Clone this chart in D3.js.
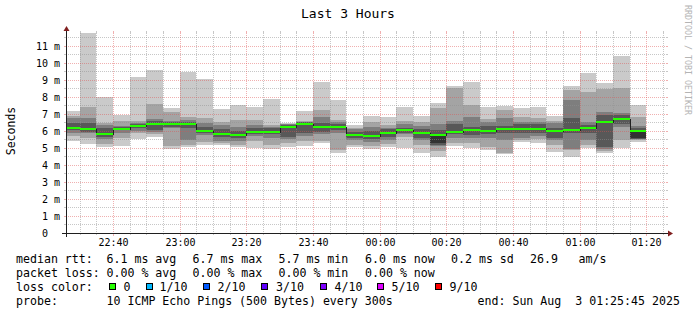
<!DOCTYPE html>
<html>
<head>
<meta charset="utf-8">
<script src="https://cdn.jsdelivr.net/npm/d3@7"></script>
<style>
body{margin:0;background:#fff}
svg{display:block;font-family:"DejaVu Sans Mono",monospace}
svg text{white-space:pre}
</style>
</head>
<body>
<div id="chart"></div>
<script>
// data - one entry per 300s step, label = step end time
const binEnd = ["22:30","22:35","22:40","22:45","22:50","22:55","23:00","23:05","23:10","23:15",
  "23:20","23:25","23:30","23:35","23:40","23:45","23:50","23:55","00:00","00:05",
  "00:10","00:15","00:20","00:25","00:30","00:35","00:40","00:45","00:50","00:55",
  "01:00","01:05","01:10","01:15","01:20"];

// median rtt (ms)
const median = [6.2,6.12,5.82,6.12,6.31,6.41,6.39,6.41,6.0,5.8,
  5.74,5.96,5.94,6.25,6.41,6.22,6.22,5.76,5.72,5.9,
  6.04,5.9,5.76,5.96,6.08,6.02,6.12,6.12,6.14,6.0,
  6.08,6.16,6.51,6.69,6.0];

// the 10 pings of each step, sorted (ms)
const pings = [
  [5.43,5.72,5.9,6.06,6.15,6.25,6.45,6.75,6.88,7.19],
  [5.24,5.57,5.86,5.96,6.07,6.17,6.45,6.78,7.43,11.78],
  [5.08,5.24,5.53,5.67,5.78,5.88,6.15,6.35,6.45,8.02],
  [5.12,5.57,5.86,6.03,6.08,6.16,6.22,6.29,6.6,6.94],
  [5.5,5.9,6.02,6.16,6.27,6.35,6.42,6.47,6.59,9.18],
  [5.63,5.8,5.95,6.06,6.35,6.47,6.6,6.71,7.59,9.59],
  [4.92,5.14,6.18,6.26,6.33,6.45,6.52,6.6,7.14,7.37],
  [5.08,5.18,5.47,6.2,6.36,6.46,6.55,6.65,6.84,9.49],
  [5.18,5.37,5.75,5.86,5.95,6.05,6.25,6.45,6.75,9.06],
  [5.18,5.3,5.43,5.63,5.75,5.85,6.1,6.35,6.55,7.29],
  [5.04,5.18,5.43,5.6,5.7,5.8,6.0,6.22,6.65,7.53],
  [4.98,5.43,5.7,5.85,5.92,6.0,6.16,6.35,6.65,7.43],
  [4.92,5.18,5.57,5.8,5.9,6.0,6.15,6.25,6.35,7.88],
  [5.08,5.31,5.55,5.67,6.2,6.3,6.35,6.38,6.41,6.49],
  [5.12,5.4,5.7,5.86,6.35,6.46,6.5,6.55,6.6,7.19],
  [5.27,5.4,5.8,5.96,6.15,6.28,6.45,6.84,7.24,8.9],
  [4.68,4.88,5.9,6.05,6.15,6.28,6.4,6.5,6.65,7.82],
  [5.08,5.18,5.47,5.6,5.7,5.8,5.95,6.1,6.2,6.35],
  [4.92,5.1,5.37,5.55,5.68,5.78,6.0,6.25,6.51,6.88],
  [5.08,5.24,5.45,5.65,5.85,5.95,6.1,6.2,6.35,6.84],
  [4.98,5.66,5.8,5.9,5.98,6.06,6.2,6.4,6.61,7.43],
  [4.73,5.2,5.45,5.57,5.85,5.95,6.1,6.29,6.5,6.88],
  [4.45,4.8,5.1,5.2,5.27,5.85,6.06,6.4,7.37,7.63],
  [5.12,5.3,5.6,5.8,5.9,6.02,6.39,6.59,8.55,8.65],
  [4.98,5.3,5.57,5.76,6.02,6.12,6.25,6.84,7.53,8.9],
  [4.88,5.08,5.6,5.85,5.98,6.06,6.3,6.5,6.68,7.43],
  [4.63,4.69,5.47,5.9,6.08,6.16,6.3,6.76,7.24,7.49],
  [5.37,5.47,5.57,5.86,6.06,6.16,6.4,6.55,6.84,7.37],
  [5.31,5.5,5.7,5.86,6.08,6.18,6.4,6.55,6.75,7.43],
  [4.78,5.18,5.45,5.57,5.95,6.05,6.2,6.45,6.6,6.88],
  [4.45,4.88,4.95,5.86,6.02,6.12,6.78,7.82,8.41,8.65],
  [4.98,5.18,5.47,5.86,6.1,6.2,6.35,6.55,8.29,9.43],
  [4.69,4.8,4.92,5.05,6.45,6.56,6.96,7.14,8.47,8.84],
  [4.98,5.47,6.25,6.4,6.62,6.75,6.95,7.04,8.55,10.43],
  [5.37,5.47,5.52,5.55,5.6,6.02,6.2,6.3,6.84,7.53]
];

const lossLabels = ["0","1/10","2/10","3/10","4/10","5/10","9/10"];
const lossColors = ["#26ff00","#00b8ff","#0059ff","#5e00ff","#7e00ff","#dd00ff","#ff0000"];

const rttStats = ["6.1 ms avg","6.7 ms max","5.7 ms min","6.0 ms now","0.2 ms sd","26.9","am/s"];
const lossStats = ["0.00 % avg","0.00 % max","0.00 % min","0.00 % now"];
const probeText = "10 ICMP Echo Pings (500 Bytes) every 300s";
const endText = "end: Sun Aug  3 01:25:45 2025";
const startTime = "2025-08-02 22:25:45";
const endTime = "2025-08-03 01:25:45";

// config
const width = 697, height = 315;
const X0 = 66, X1 = 666, Y0 = 233, Y1 = 33;
const yMax = 11.76;
const smokeColors = ["#cacaca","#a4a4a4","#7e7e7e","#585858","#323232"];
const gridColor = "rgba(143,143,143,0.5)";
const mgridColor = "rgba(222,80,80,0.45)";
const nb = s => s.replace(/ /g, "\u00a0");

const parse = d3.utcParse("%Y-%m-%d %H:%M:%S");
const t0 = parse(startTime), t1 = parse(endTime);
const toDate = s => parse((s < "12" ? "2025-08-03 " : "2025-08-02 ") + s + ":00");

const x = d3.scaleUtc().domain([t0, t1]).range([X0, X1]);
const y = d3.scaleLinear().domain([0, yMax]).range([Y0, Y1]);
const px = v => Math.max(X0, Math.floor(x(v)));
const py = v => Math.round(y(v));

const bins = binEnd.map((s, i) => {
  const end = toDate(s);
  return {start: d3.utcMinute.offset(end, -5), end: end, pings: pings[i], median: median[i]};
});

const svg = d3.select("#chart").append("svg")
  .attr("width", width).attr("height", height)
  .style("background", "#fff");

// smoke
const smoke = svg.append("g").attr("shape-rendering", "crispEdges");
smokeColors.forEach((c, k) => {
  smoke.append("g").selectAll("rect")
    .data(bins)
    .enter().append("rect")
    .attr("x", d => px(d.start))
    .attr("width", d => px(d.end) - px(d.start))
    .attr("y", d => py(d.pings[9 - k]))
    .attr("height", d => py(d.pings[k]) - py(d.pings[9 - k]))
    .attr("fill", c);
});

// grid on top
const grid = svg.append("g").attr("shape-rendering", "crispEdges").attr("stroke-dasharray", "1,1");
const yMinor = d3.range(0.5, yMax, 0.5).filter(v => v % 1 !== 0);
const yMajor = d3.range(1, 12);
const xMajor = d3.utcMinute.every(20).range(t0, t1);
const xMinor = d3.utcMinute.every(5).range(t0, t1).filter(d => d.getUTCMinutes() % 20 !== 0);

grid.selectAll(".hmin").data(yMinor).enter().append("line")
  .attr("x1", X0).attr("x2", X1)
  .attr("y1", d => py(d) + 0.5).attr("y2", d => py(d) + 0.5)
  .attr("stroke", gridColor);
grid.selectAll(".vmin").data(xMinor).enter().append("line")
  .attr("x1", d => px(d) + 0.5).attr("x2", d => px(d) + 0.5)
  .attr("y1", Y1).attr("y2", Y0)
  .attr("stroke", gridColor);
grid.selectAll(".hmaj").data(yMajor).enter().append("line")
  .attr("x1", X0).attr("x2", X1)
  .attr("y1", d => py(d) + 0.5).attr("y2", d => py(d) + 0.5)
  .attr("stroke", mgridColor);
grid.selectAll(".vmaj").data(xMajor).enter().append("line")
  .attr("x1", d => px(d) + 0.5).attr("x2", d => px(d) + 0.5)
  .attr("y1", Y1).attr("y2", Y0)
  .attr("stroke", mgridColor);

// outside ticks on right/top
const ticks = svg.append("g").attr("shape-rendering", "crispEdges");
ticks.selectAll(".rt").data(yMinor.concat(yMajor)).enter().append("line")
  .attr("x1", X1).attr("x2", X1 + 2)
  .attr("y1", d => py(d) + 0.5).attr("y2", d => py(d) + 0.5)
  .attr("stroke", d => d % 1 ? gridColor : mgridColor);
ticks.selectAll(".lt").data(yMinor).enter().append("line")
  .attr("x1", X0 - 2).attr("x2", X0)
  .attr("y1", d => py(d) + 0.5).attr("y2", d => py(d) + 0.5)
  .attr("stroke", gridColor);
ticks.selectAll(".tt").data(xMinor.concat(xMajor)).enter().append("line")
  .attr("x1", d => px(d) + 0.5).attr("x2", d => px(d) + 0.5)
  .attr("y1", Y1 - 2).attr("y2", Y1)
  .attr("stroke", d => d.getUTCMinutes() % 20 ? gridColor : mgridColor);
ticks.selectAll(".bt").data(xMinor).enter().append("line")
  .attr("x1", d => px(d) + 0.5).attr("x2", d => px(d) + 0.5)
  .attr("y1", Y0).attr("y2", Y0 + 2)
  .attr("stroke", gridColor);

// median: dark step line then loss coloured band
const medPts = [];
bins.forEach(d => {
  medPts.push([px(d.start), py(d.median) + 0.5]);
  medPts.push([px(d.end), py(d.median) + 0.5]);
});
svg.append("path")
  .attr("d", d3.line()(medPts))
  .attr("fill", "none")
  .attr("stroke", "#202020")
  .attr("shape-rendering", "crispEdges");
svg.append("g").attr("shape-rendering", "crispEdges")
  .selectAll("rect").data(bins).enter().append("rect")
  .attr("x", d => px(d.start))
  .attr("width", d => px(d.end) - px(d.start))
  .attr("y", d => py(d.median) - 1)
  .attr("height", 2)
  .attr("fill", lossColors[0]);

// axes
const yAxis = svg.append("g")
  .attr("transform", `translate(${X0},0.5)`)
  .call(d3.axisLeft(y).tickValues(d3.range(0, 12)).tickSize(2).tickPadding(4)
    .tickFormat(d => d === 0 ? "0\u00a0\u00a0" : nb(d + " m")));
yAxis.select(".domain").remove();
yAxis.selectAll(".tick line").attr("stroke", mgridColor).attr("shape-rendering", "crispEdges");
yAxis.selectAll(".tick").attr("transform", d => `translate(0,${py(d)})`);
yAxis.selectAll("text").attr("font-family", "DejaVu Sans Mono").attr("font-size", 10)
  .attr("fill", "#000").attr("dy", "0.34em");

const xAxis = svg.append("g")
  .attr("transform", `translate(0,${Y0 + 0.5})`)
  .call(d3.axisBottom(x).tickValues(xMajor).tickSize(2).tickPadding(3)
    .tickFormat(d3.utcFormat("%H:%M")));
xAxis.select(".domain").remove();
xAxis.selectAll(".tick").attr("transform", d => `translate(${px(d) + 0.5},0)`);
xAxis.selectAll(".tick line").attr("stroke", mgridColor).attr("shape-rendering", "crispEdges");
xAxis.selectAll("text").attr("font-family", "DejaVu Sans Mono").attr("font-size", 10).attr("fill", "#000");

// axis lines + arrows
svg.append("line").attr("x1", X0 + 0.5).attr("x2", X0 + 0.5).attr("y1", Y1 - 2).attr("y2", Y0 + 4)
  .attr("stroke", "#1f1f1f").attr("shape-rendering", "crispEdges");
svg.append("line").attr("x1", X0 - 4).attr("x2", X1 + 3).attr("y1", Y0 + 0.5).attr("y2", Y0 + 0.5)
  .attr("stroke", "#1f1f1f").attr("shape-rendering", "crispEdges");
svg.append("path").attr("d", `M${X0 - 2.5},${Y1 - 2} L${X0 + 3.5},${Y1 - 2} L${X0 + 0.5},${Y1 - 7} Z`)
  .attr("fill", "#801f1f");
svg.append("path").attr("d", `M${X1 + 2},${Y0 - 2.5} L${X1 + 2},${Y0 + 3.5} L${X1 + 7},${Y0 + 0.5} Z`)
  .attr("fill", "#801f1f");

// titles
svg.append("text").attr("x", 348).attr("y", 18).attr("text-anchor", "middle")
  .attr("font-size", 13).text("Last 3 Hours");
svg.append("text").attr("transform", "translate(15,131) rotate(-90)")
  .attr("text-anchor", "middle").attr("font-size", 11.5).text("Seconds");
svg.append("text").attr("transform", "translate(685,5) rotate(90)")
  .attr("font-size", 8.3).attr("fill", "#b4b4b4").text(nb("RRDTOOL / TOBI OETIKER"));

// legend
const lg = svg.append("g").attr("font-size", 11.6).attr("fill", "#000");
const statX = [106.5, 192.5, 278.5, 365, 451, 530, 578.5];
lg.append("text").attr("x", 16).attr("y", 263).text(nb("median rtt:"));
lg.selectAll(".rtt").data(rttStats).enter().append("text")
  .attr("x", (d, i) => statX[i]).attr("y", 263).text(d => nb(d));
lg.append("text").attr("x", 16).attr("y", 277).text(nb("packet loss:"));
lg.selectAll(".loss").data(lossStats).enter().append("text")
  .attr("x", (d, i) => statX[i]).attr("y", 277).text(d => nb(d));
lg.append("text").attr("x", 16).attr("y", 291).text(nb("loss color:"));
const boxX = [109, 146, 203, 261, 320, 377, 435];
const labX = [123.5, 159.5, 217.5, 276, 334.5, 391.5, 449.5];
lg.selectAll(".box").data(lossColors).enter().append("rect")
  .attr("x", (d, i) => boxX[i] + 0.5).attr("y", 283.5)
  .attr("width", 6).attr("height", 6)
  .attr("fill", d => d).attr("stroke", "#000").attr("shape-rendering", "crispEdges");
lg.selectAll(".lab").data(lossLabels).enter().append("text")
  .attr("x", (d, i) => labX[i]).attr("y", 291).text(d => d);
lg.append("text").attr("x", 16).attr("y", 305).text("probe:");
lg.append("text").attr("x", 106.5).attr("y", 305).text(nb(probeText));
lg.append("text").attr("x", 477.5).attr("y", 305).text(nb(endText));
</script>
</body>
</html>
